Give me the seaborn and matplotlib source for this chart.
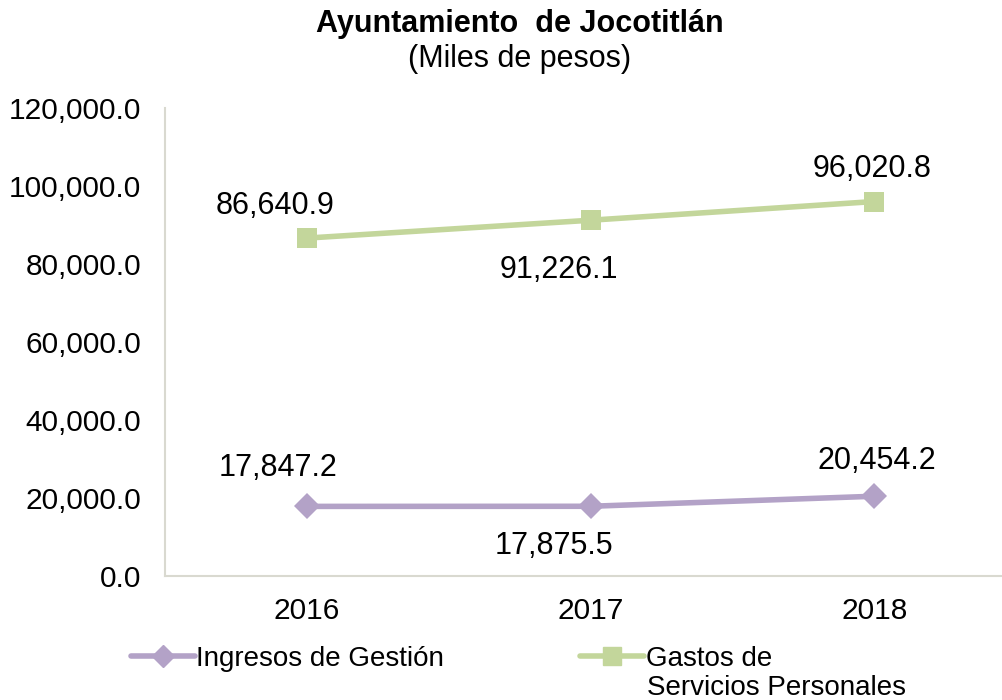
import matplotlib
matplotlib.use("Agg")
import matplotlib.pyplot as plt
import seaborn as sns
import pandas as pd

# data
years = [2016, 2017, 2018]
ingresos = [17847.2, 17875.5, 20454.2]
gastos = [86640.9, 91226.1, 96020.8]
series_names = ["Ingresos de Gestión", "Gastos de\nServicios Personales"]
yticks = [0, 20000, 40000, 60000, 80000, 100000, 120000]

purple = "#B3A2C7"
green = "#C3D69B"

sns.set_style("white")
plt.rcParams["font.family"] = ["Liberation Sans", "DejaVu Sans"]
plt.rcParams["text.color"] = "black"

df = pd.DataFrame({
    "year": years * 2,
    "value": ingresos + gastos,
    "serie": [series_names[0]] * 3 + [series_names[1]] * 3,
})

fig = plt.figure(figsize=(10.02, 7.0), dpi=100)
ax = fig.add_axes([165 / 1002, 1 - 576 / 700, 837 / 1002, (576 - 108) / 700])

sns.lineplot(data=df, x="year", y="value", hue="serie", style="serie",
             palette=[purple, green], markers=["D", "s"], dashes=False,
             linewidth=4, markersize=13, markeredgewidth=0, ax=ax, legend=False)
# make the square a bit bigger than the diamond
ax.lines[1].set_markersize(15)

# data labels (offsets in pixels, as in the picture)
offs_ing = [(-29, 38), (-37, -40), (2, 35)]
offs_gas = [(-32, 32), (-32, -50), (-2, 33)]
for x, v, o in zip(years, ingresos, offs_ing):
    ax.annotate(f"{v:,.1f}", (x, v), xytext=o, textcoords="offset pixels",
                ha="center", va="center", fontsize=22, color="black")
for x, v, o in zip(years, gastos, offs_gas):
    ax.annotate(f"{v:,.1f}", (x, v), xytext=o, textcoords="offset pixels",
                ha="center", va="center", fontsize=22, color="black")

ax.set_xlim(2015.5, 2018.45)
ax.set_ylim(0, 120000)
ax.set_xticks(years)
ax.set_xticklabels([str(y) for y in years])
ax.set_yticks(yticks)
ax.set_yticklabels([f"{t:,.1f}" for t in yticks])
ax.set_xlabel("")
ax.set_ylabel("")
ax.tick_params(axis="y", direction="in", length=11, color="#D9D9D0",
               labelsize=21.5, pad=17, labelcolor="black")
ax.tick_params(axis="x", length=0, labelsize=21.5, pad=15, labelcolor="black")
for s in ["top", "right"]:
    ax.spines[s].set_visible(False)
for s in ["left", "bottom"]:
    ax.spines[s].set_color("#D9D9D0")
    ax.spines[s].set_linewidth(1.5)

fig.text(0.519, 1 - 24 / 700, "Ayuntamiento  de Jocotitlán", ha="center",
         va="center", fontsize=22, fontweight="bold")
fig.text(0.519, 1 - 59 / 700, "(Miles de pesos)", ha="center", va="center",
         fontsize=22)

# legend: handle sits on the first line of the two-line label
handles = [
    plt.Line2D([], [], color=purple, lw=4, marker="D", markersize=11),
    plt.Line2D([], [], color=green, lw=4, marker="s", markersize=13),
]
first_lines = [n.split("\n")[0] for n in series_names]
fig.legend(handles, first_lines, loc="upper left", ncol=2,
           bbox_to_anchor=(120 / 1002, 1 - 635 / 700), frameon=False,
           fontsize=20, handlelength=2.3, handletextpad=0.05,
           columnspacing=4.9, borderaxespad=0)
fig.text(647 / 1002, 1 - 688 / 700, series_names[1].split("\n")[1],
         ha="left", va="center", fontsize=20)

fig.savefig("out.png", dpi=100)
